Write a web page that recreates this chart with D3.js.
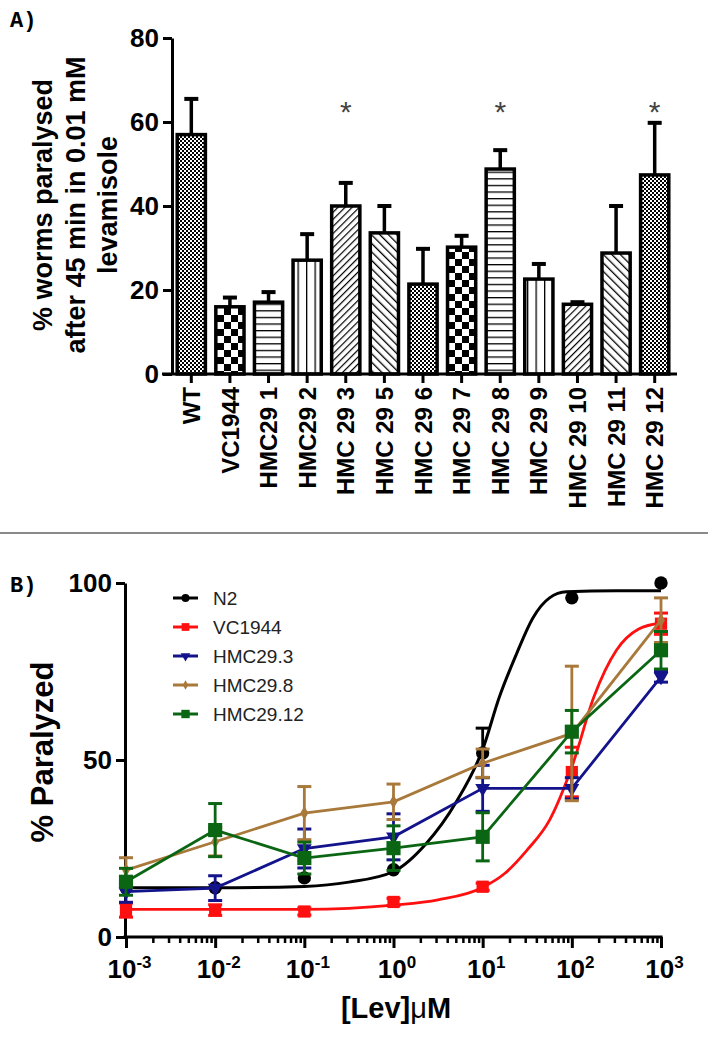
<!DOCTYPE html>
<html><head><meta charset="utf-8">
<script src="https://cdnjs.cloudflare.com/ajax/libs/d3/7.8.5/d3.min.js"></script>
<style>body{margin:0;background:#fff} svg{display:block}</style>
</head><body><svg id="c" width="708" height="1050"></svg>
<script>
// ---------- Panel A data ----------
const categoriesA = ["WT","VC1944","HMC29 1","HMC29 2","HMC 29 3","HMC 29 5","HMC 29 6","HMC 29 7","HMC 29 8","HMC 29 9","HMC 29 10","HMC 29 11","HMC 29 12"];
const meansA = [57,16,17.1,27.1,40,33.6,21.4,30.2,48.8,22.6,16.6,28.8,47.4];
const errorsA = [8.5,2.2,2.4,6.2,5.5,6.4,8.4,2.7,4.5,3.6,0.5,11.2,12.4];
const patternsA = ["fine","coarse","hline","vline","fwd","back","fine","coarse","hline","vline","fwd","back","fine"];
const starredA = ["HMC 29 3","HMC 29 8","HMC 29 12"];
const ticksA = [0,20,40,60,80];
const yLabelA = ["% worms paralysed","after 45 min in 0.01 mM","levamisole"];

// ---------- Panel B data ----------
const doses = [1e-3,1e-2,1e-1,1,10,100,1000];
const tickExpB = [-3,-2,-1,0,1,2,3];
const ticksB = [0,50,100];
const seriesNames = ["N2","VC1944","HMC29.3","HMC29.8","HMC29.12"];
const n2Vals   = [13.9,13.9,16.7,19,52,95.8,100];
const n2Err    = [0,0,0,0,7,0,0];
const vcVals   = [7.6,7.6,7.2,9.9,14.2,46.6,88.5];
const vcErr    = [2,1.5,1,1,1,7,3];
const h3Vals   = [12.8,13.8,25,28.3,42,42,73.5];
const h3Err    = [3,3.5,5.5,6.5,6.5,3,1.5];
const h8Vals   = [18.9,26.9,35,38.2,49.1,57.5,89.5];
const h8Err    = [3.5,4,7.5,5,4,19,6.3];
const h12Vals  = [15.6,30.2,22.3,25.1,28.3,58,81];
const h12Err   = [3.8,7.5,4.5,6.3,6.8,6,5.3];
// fitted curves: [log10 dose, % paralyzed]
const n2Fit = [[-3,13.9],[-2,13.9],[-1,14.3],[-0.5,15.5],[0,18.5],[0.37,26.5],[0.7,38],[1,53],[1.19,68],[1.38,80],[1.56,90],[1.75,95.8],[1.94,97.5],[2.5,97.8],[3,97.8]];
const vcFit = [[-3,7.8],[-2,7.8],[-1,7.8],[0,9.0],[0.5,10.5],[1,14],[1.25,18],[1.5,24.6],[1.75,33],[2,48],[2.25,68],[2.5,81],[2.75,87],[3,88.7]];

const SANS = "Liberation Sans";
const MONO = "Liberation Mono";

const svg = d3.select("#c");
svg.append("rect").attr("width",708).attr("height",1050).attr("fill","#fff");
const defs = svg.append("defs");
function pat(id,w,h,draw,tr){
  const p = defs.append("pattern").attr("id",id).attr("patternUnits","userSpaceOnUse").attr("width",w).attr("height",h);
  if(tr) p.attr("patternTransform",tr);
  p.append("rect").attr("width",w).attr("height",h).attr("fill","#fff");
  draw(p);
}
pat("fine",4,4,p=>{p.append("rect").attr("width",2).attr("height",2);p.append("rect").attr("x",2).attr("y",2).attr("width",2).attr("height",2);});
pat("coarse",14,14,p=>{p.append("rect").attr("width",7).attr("height",7);p.append("rect").attr("x",7).attr("y",7).attr("width",7).attr("height",7);});
pat("hline",10,6.6,p=>p.append("rect").attr("width",10).attr("height",1.3));
pat("vline",8.5,10,p=>p.append("rect").attr("width",1.3).attr("height",10));
pat("fwd",5,10,p=>p.append("rect").attr("width",1.2).attr("height",10),"rotate(45)");
pat("back",6,10,p=>p.append("rect").attr("width",1.3).attr("height",10),"rotate(-45)");

// ================= PANEL A =================
const xA = d3.scaleBand().domain(categoriesA).range([172,674]).paddingInner(0.27).paddingOuter(0.135);
const yA = d3.scaleLinear().domain([0,80]).range([374,38]);
const gA = svg.append("g");

gA.append("text").attr("font-family",MONO).attr("x",10).attr("y",27)
  .attr("font-weight","bold").attr("font-size",22).text("A)");

gA.selectAll("rect.bar").data(categoriesA).join("rect").attr("class","bar")
  .attr("x",d=>xA(d)).attr("width",xA.bandwidth())
  .attr("y",(d,i)=>yA(meansA[i])).attr("height",(d,i)=>yA(0)-yA(meansA[i]))
  .attr("fill",(d,i)=>`url(#${patternsA[i]})`).attr("stroke","#000").attr("stroke-width",3.5);
const eg = gA.append("g").attr("stroke","#000");
categoriesA.forEach((c,i)=>{
  const cx = xA(c)+xA.bandwidth()/2;
  eg.append("line").attr("x1",cx).attr("x2",cx).attr("y1",yA(meansA[i])).attr("y2",yA(meansA[i]+errorsA[i])).attr("stroke-width",3.5);
  eg.append("line").attr("x1",cx-7).attr("x2",cx+7).attr("y1",yA(meansA[i]+errorsA[i])).attr("y2",yA(meansA[i]+errorsA[i])).attr("stroke-width",4);
});
gA.selectAll("text.star").data(starredA).join("text").attr("class","star").attr("font-family",SANS)
  .attr("x",d=>xA(d)+xA.bandwidth()/2).attr("y",yA(64)+17)
  .attr("text-anchor","middle").attr("font-size",30).attr("fill","#444").text("*");

const axA = gA.append("g").attr("transform",`translate(172,0)`)
  .call(d3.axisLeft(yA).tickValues(ticksA).tickSize(9).tickSizeOuter(0).tickPadding(4));
axA.attr("font-family",SANS);
axA.select(".domain").attr("stroke-width",3);
axA.selectAll(".tick line").attr("stroke-width",3);
axA.selectAll(".tick text").attr("font-weight","bold").attr("font-size",26).attr("fill","#000");

const axXA = gA.append("g").attr("transform",`translate(0,374)`)
  .call(d3.axisBottom(xA).tickSize(9).tickSizeOuter(0).tickPadding(0));
axXA.attr("font-family",SANS);
axXA.select(".domain").remove();
axXA.append("line").attr("x1",162).attr("x2",677).attr("y1",0).attr("y2",0).attr("stroke","#000").attr("stroke-width",3);
axXA.selectAll(".tick line").attr("stroke-width",3);
axXA.selectAll(".tick text").attr("font-weight","bold").attr("font-size",24).attr("fill","#000")
  .attr("text-anchor","end").attr("transform","rotate(-90)").attr("x",-13).attr("y",0).attr("dy","0.36em");

const yl = gA.append("text").attr("font-family",SANS).attr("transform","translate(0,205) rotate(-90)")
  .attr("text-anchor","middle").attr("font-weight","bold").attr("font-size",27);
yLabelA.forEach((t,i)=>yl.append("tspan").attr("x",0).attr("y",[52,85,117][i]).text(t));

svg.append("line").attr("x1",0).attr("x2",708).attr("y1",533).attr("y2",533).attr("stroke","#8a8a8a").attr("stroke-width",2);

// ================= PANEL B =================
const xB = d3.scaleLog().domain([1e-3,1e3]).range([126,661]);
const yB = d3.scaleLinear().domain([0,100]).range([937,583]);
const gB = svg.append("g");
gB.append("text").attr("font-family",MONO).attr("x",10).attr("y",592)
  .attr("font-weight","bold").attr("font-size",22).text("B)");

const ayB = gB.append("g").attr("transform","translate(125,0)")
  .call(d3.axisLeft(yB).tickValues(ticksB).tickSize(9).tickSizeOuter(0).tickPadding(4));
ayB.attr("font-family",SANS);
ayB.select(".domain").attr("stroke-width",3);
ayB.selectAll(".tick line").attr("stroke-width",3);
ayB.selectAll(".tick text").attr("font-weight","bold").attr("font-size",26).attr("fill","#000");

const minor = [];
for(let e=-3;e<3;e++) for(let m=2;m<=9;m++) minor.push(m*Math.pow(10,e));
const axB = gB.append("g").attr("transform","translate(0,937)");
axB.call(d3.axisBottom(xB).tickValues(minor).tickSize(6).tickSizeOuter(0).tickFormat(""));
axB.select(".domain").remove();
axB.selectAll(".tick line").attr("stroke-width",2.5);
const axB2 = gB.append("g").attr("transform","translate(0,937)")
  .call(d3.axisBottom(xB).tickValues(doses).tickSize(11).tickSizeOuter(0).tickFormat(""));
axB2.attr("font-family",SANS);
axB2.select(".domain").remove();
axB2.selectAll(".tick line").attr("stroke-width",3);
axB2.append("line").attr("x1",123.5).attr("x2",xB(1e3)+1.5).attr("stroke","#000").attr("stroke-width",3);
const tl = axB2.selectAll(".tick").append("text").attr("y",41).attr("text-anchor","middle")
  .attr("font-weight","bold").attr("font-size",26).attr("fill","#000").attr("x",3);
tl.each(function(d,i){
  const t = d3.select(this);
  t.append("tspan").text("10");
  t.append("tspan").attr("dy",-10).attr("font-size",17).text(String(tickExpB[i]));
});

gB.append("text").attr("font-family",SANS).attr("transform","translate(53,752) rotate(-90)").attr("text-anchor","middle")
  .attr("font-weight","bold").attr("font-size",31).text("% Paralyzed");
const xl = gB.append("text").attr("font-family",SANS).attr("x",396).attr("y",1018).attr("text-anchor","middle")
  .attr("font-weight","bold").attr("font-size",29);
xl.append("tspan").text("[Lev]");
xl.append("tspan").attr("font-weight","normal").text("μ");
xl.append("tspan").text("M");

const colors = {"N2":"#000000","VC1944":"#ff1010","HMC29.3":"#13138c","HMC29.8":"#a8793a","HMC29.12":"#0b6614"};
const vals = {"N2":n2Vals,"VC1944":vcVals,"HMC29.3":h3Vals,"HMC29.8":h8Vals,"HMC29.12":h12Vals};
const errs = {"N2":n2Err,"VC1944":vcErr,"HMC29.3":h3Err,"HMC29.8":h8Err,"HMC29.12":h12Err};
const shapes = {"N2":d3.symbolCircle,"VC1944":d3.symbolSquare,"HMC29.3":d3.symbolTriangle,"HMC29.8":d3.symbolDiamond,"HMC29.12":d3.symbolSquare};
const sizes = {"N2":140,"VC1944":150,"HMC29.3":95,"HMC29.8":55,"HMC29.12":200};
const legSizes = {"N2":50,"VC1944":60,"HMC29.3":40,"HMC29.8":25,"HMC29.12":70};
const fits = {"N2":n2Fit,"VC1944":vcFit};

const fitLine = d3.line().x(d=>xB(Math.pow(10,d[0]))).y(d=>yB(d[1])).curve(d3.curveMonotoneX);
const ptLine = d3.line().x((d,i)=>xB(doses[i])).y(d=>yB(d));
const plot = gB.append("g");
seriesNames.forEach(s=>{
  const g = plot.append("g");
  const c = colors[s];
  if(fits[s]) g.append("path").attr("d",fitLine(fits[s])).attr("fill","none").attr("stroke",c).attr("stroke-width",s==="N2"?3:2.8);
  else g.append("path").attr("d",ptLine(vals[s])).attr("fill","none").attr("stroke",c).attr("stroke-width",2.8);
  vals[s].forEach((v,i)=>{
    const e = errs[s][i];
    if(e>0){
      const x = xB(doses[i]);
      g.append("line").attr("x1",x).attr("x2",x).attr("y1",yB(v-e)).attr("y2",yB(v+e)).attr("stroke",c).attr("stroke-width",2.8);
      [v-e,v+e].forEach(w=>g.append("line").attr("x1",x-7).attr("x2",x+7).attr("y1",yB(w)).attr("y2",yB(w)).attr("stroke",c).attr("stroke-width",3));
    }
  });
  g.selectAll("path.m").data(vals[s]).join("path").attr("class","m")
    .attr("transform",(d,i)=>`translate(${xB(doses[i])},${yB(d)})${s==="HMC29.3"?" rotate(180)":""}`)
    .attr("d",d3.symbol().type(shapes[s]).size(sizes[s])).attr("fill",c);
});

const leg = gB.append("g");
seriesNames.forEach((s,i)=>{
  const y = 598 + i*29;
  const c = colors[s];
  leg.append("line").attr("x1",173).attr("x2",198).attr("y1",y).attr("y2",y).attr("stroke",c).attr("stroke-width",3);
  leg.append("path").attr("transform",`translate(185.5,${y})${s==="HMC29.3"?" rotate(180)":""}`)
    .attr("d",d3.symbol().type(shapes[s]).size(legSizes[s])).attr("fill",c);
  leg.append("text").attr("font-family",SANS).attr("x",213).attr("y",y).attr("dy","0.36em").attr("font-size",19).attr("fill","#222").text(s);
});
</script></body></html>
